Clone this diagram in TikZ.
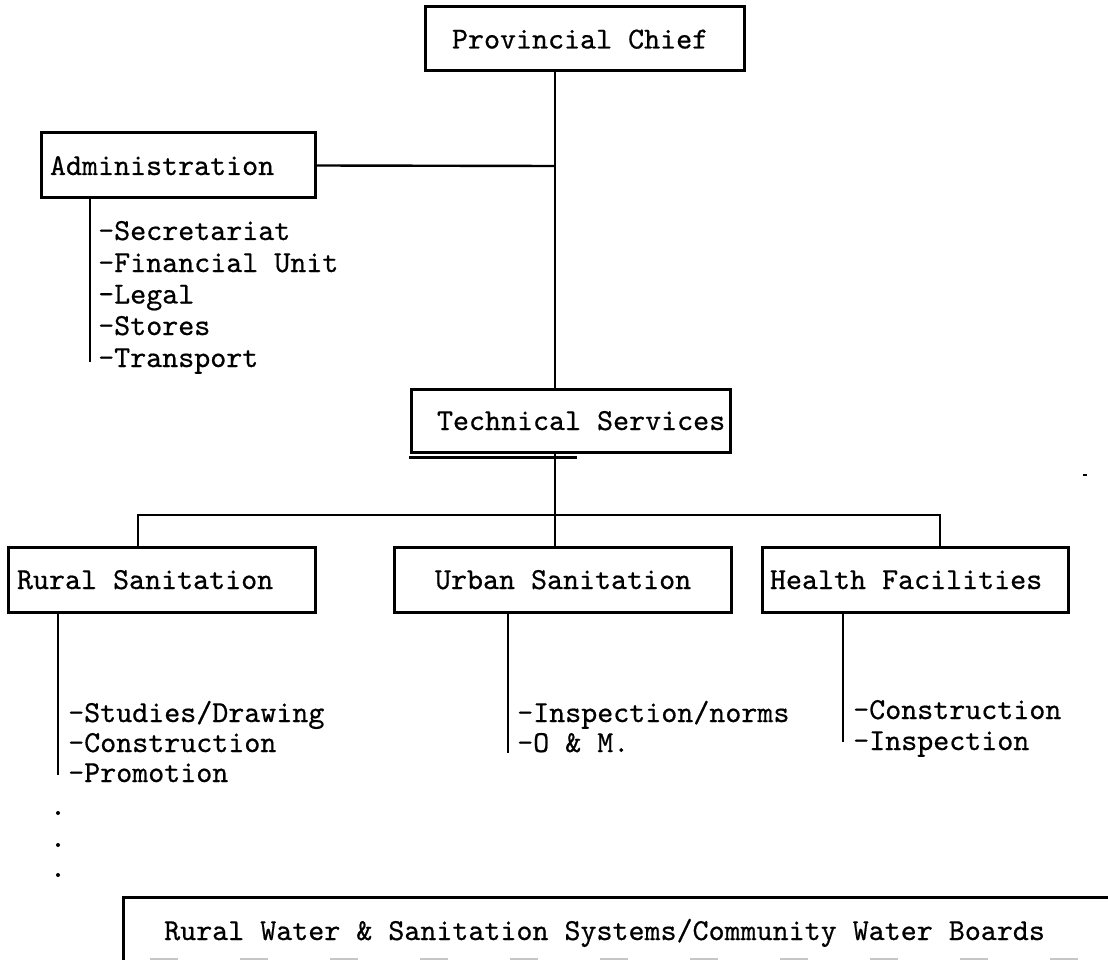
\documentclass[tikz,border=0pt]{standalone}
\usepackage{fontspec}
\newfontfamily\typefont{lmmono10-regular.otf}[FakeBold=0.6]
\newcommand\bx[3]{\makebox[#1pt][l]{\hspace*{#2pt}#3}}
\tikzset{
  org/.style={draw, line width=3pt, inner sep=0pt, text height=19pt, text depth=0pt},
  conn/.style={line width=2.4pt},
  item/.style={anchor=base west, inner sep=0pt},
  dot/.style={fill, circle, inner sep=0pt, minimum size=4pt}
}
\begin{document}
\begin{tikzpicture}[x=1pt,y=-1pt, font=\fontsize{30.5}{32}\selectfont\typefont]
\useasboundingbox (0,0) rectangle (1108,960);

% boxes
\node[org, minimum width=319pt, minimum height=64pt] (chief) at (584.5,39) {\bx{319}{27}{Provincial Chief}};
\node[org, minimum width=274pt, minimum height=65pt] (admin) at (178,165.5) {\bx{274}{9}{Administration}};
\node[org, minimum width=319pt, minimum height=63pt] (tech) at (570.5,420.5) {\bx{319}{26}{Technical Services}};
\node[org, minimum width=307pt, minimum height=65pt] (rural) at (161.5,579.5) {\bx{307}{9}{Rural Sanitation}};
\node[org, minimum width=337pt, minimum height=65pt] (urban) at (562.5,579.5) {\bx{337}{41}{Urban Sanitation}};
\node[org, minimum width=306pt, minimum height=65pt] (health) at (915,579.5) {\bx{306}{8}{Health Facilities}};

% bottom (cut-off) box
\coordinate (bbTR) at (1108,897);
\coordinate (bbTL) at (123,897);
\coordinate (bbBL) at (123,960);
\draw[line width=3pt] (bbTR) -- (bbTL) -- (bbBL);
\draw[line width=2pt, gray!45, dash pattern=on 28pt off 62pt] (150,959) -- (1108,959);
\node[item] (rwsb) at (164,940) {Rural Water \& Sanitation Systems/Community Water Boards};

% main trunk
\coordinate (j1) at (555,166);
\draw[conn] (chief.south -| j1) -- (tech.north -| j1);
\draw[conn] (admin.east) -- (j1);

% double rule under Technical Services
\coordinate (dl1) at (409,457.5);
\coordinate (dl2) at (577,457.5);
\draw[line width=2.6pt] (dl1) -- (dl2);

% bus to third level
\coordinate (bus) at (555,515);
\coordinate (busL) at (138,515);
\coordinate (busR) at (940,515);
\draw[conn] (tech.south -| bus) -- (bus);
\draw[conn] (rural.north -| busL) -- (busL) -- (busR) -- (health.north -| busR);
\draw[conn] (bus) -- (urban.north -| bus);

% Administration list
\coordinate (aend) at (90,362);
\draw[conn] (admin.south -| aend) -- (aend);
\node[item] (a1) at (98,240) {-Secretariat};
\node[item] (a2) at (98,272) {-Financial Unit};
\node[item] (a3) at (98,303.5) {-Legal};
\node[item] (a4) at (98,335) {-Stores};
\node[item] (a5) at (98,367) {-Transport};

% Rural list
\coordinate (rend) at (58,775);
\draw[conn] (rural.south -| rend) -- (rend);
\node[item] (r1) at (68,722) {-Studies/Drawing};
\node[item] (r2) at (68,752) {-Construction};
\node[item] (r3) at (68,782) {-Promotion};
\node[dot] (d1) at (58,813) {};
\node[dot] (d2) at (58,845) {};
\node[dot] (d3) at (58,875) {};

% Urban list
\coordinate (uend) at (508,753);
\draw[conn] (urban.south -| uend) -- (uend);
\node[item] (u1) at (517,722) {-Inspection/norms};
\node[item] (u2) at (517,752) {-O \& M.};

% Health list
\coordinate (hend) at (843,742);
\draw[conn] (health.south -| hend) -- (hend);
\node[item] (h1) at (853,719) {-Construction};
\node[item] (h2) at (853,750) {-Inspection};

% stray mark
\node[fill, inner sep=0pt, minimum width=4pt, minimum height=2.5pt] (mark) at (1085,475) {};
\end{tikzpicture}
\end{document}
